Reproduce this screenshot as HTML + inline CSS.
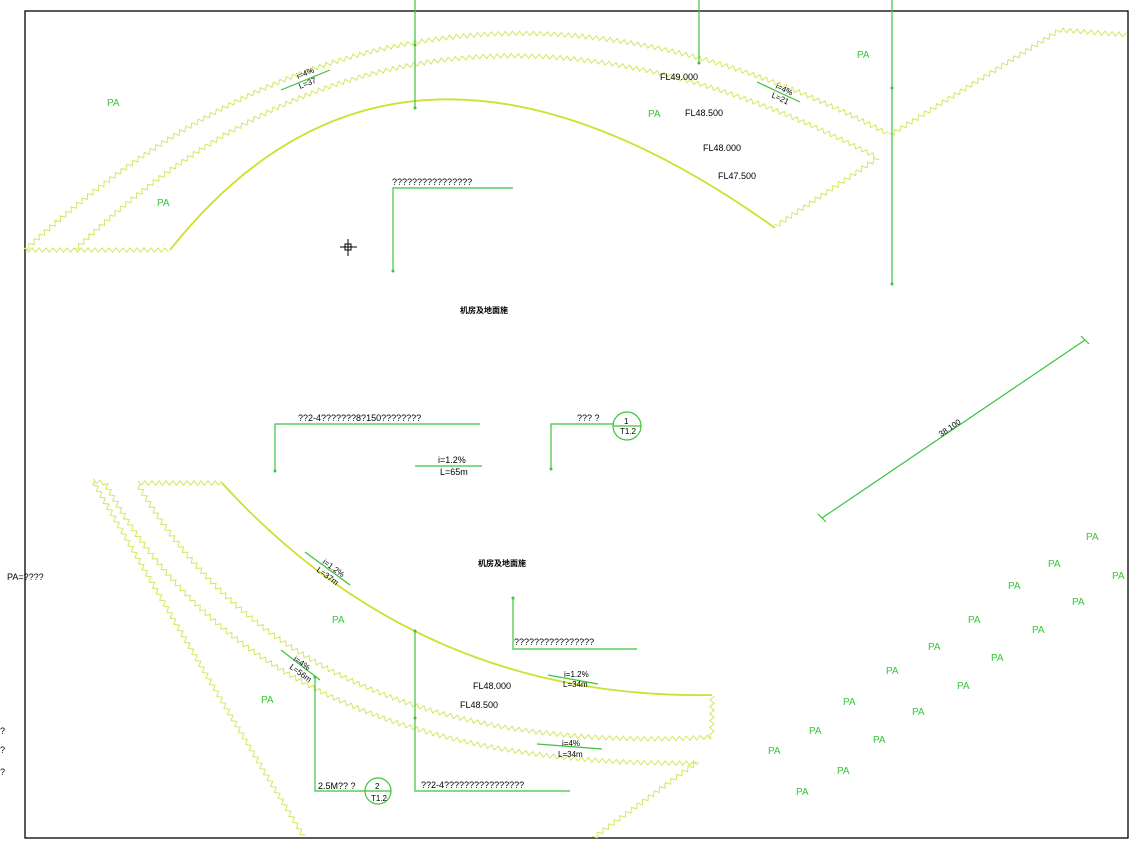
<!DOCTYPE html>
<html><head><meta charset="utf-8"><style>
html,body{margin:0;padding:0;background:#fff;}
svg{display:block;}
text{font-family:"Liberation Sans","Noto Sans CJK SC",sans-serif;}
.t{font-size:9px;fill:#000;}
.pa{font-size:10px;fill:#3cc43c;}
.g{stroke:#3cc43c;stroke-width:1.2;fill:none;}
</style></head><body>
<svg id="s" width="1131" height="846" viewBox="0 0 1131 846" xmlns="http://www.w3.org/2000/svg">
<rect x="25" y="11" width="1103" height="827" fill="none" stroke="#000" stroke-width="1.3"/>
<g id="zz"></g>
<path d="M170,250 Q400,-40 775,228" fill="none" stroke="#d0e030" stroke-width="1.8"/>
<path d="M222,483 Q420,700 712,695" fill="none" stroke="#d0e030" stroke-width="1.8"/>
<g class="g">
<line x1="415" y1="0" x2="415" y2="108"/>
<line x1="699" y1="0" x2="699" y2="63"/>
<line x1="892" y1="0" x2="892" y2="285"/>
<line x1="281" y1="90" x2="330" y2="70"/>
<line x1="757" y1="82" x2="800" y2="102"/>
<polyline points="513,188 393,188 393,272"/>
<polyline points="480,424 275,424 275,472"/>
<polyline points="614,424 551,424 551,470"/>
<circle cx="627" cy="426" r="14"/>
<line x1="613" y1="426" x2="641" y2="426"/>
<line x1="415" y1="466" x2="482" y2="466"/>
<line x1="822" y1="518" x2="1085" y2="340"/>
<line x1="818" y1="514" x2="826" y2="522"/>
<line x1="1081" y1="336" x2="1089" y2="344"/>
<line x1="305" y1="552" x2="350" y2="585"/>
<polyline points="513,597 513,649 637,649"/>
<polyline points="415,630 415,791 570,791"/>
<line x1="548" y1="675" x2="598" y2="684"/>
<line x1="281" y1="650" x2="320" y2="680"/>
<polyline points="315,676 315,791 365,791"/>
<circle cx="378" cy="791" r="13"/>
<line x1="365" y1="791" x2="391" y2="791"/>
<line x1="537" y1="744" x2="602" y2="749"/>
</g>
<g fill="#3cc43c">
<circle cx="415" cy="45" r="1.5"/><circle cx="415" cy="108" r="1.5"/><circle cx="699" cy="63" r="1.5"/>
<circle cx="892" cy="88" r="1.5"/><circle cx="892" cy="284" r="1.5"/><circle cx="393" cy="271" r="1.5"/>
<circle cx="275" cy="471" r="1.5"/><circle cx="551" cy="469" r="1.5"/><circle cx="513" cy="598" r="1.5"/>
<circle cx="415" cy="631" r="1.5"/><circle cx="415" cy="718" r="1.5"/><circle cx="315" cy="677" r="1.5"/>
</g>
<g stroke="#000" stroke-width="1" fill="none"><line x1="340" y1="247" x2="357" y2="247"/><line x1="348" y1="239" x2="348" y2="256"/><rect x="345" y="244" width="6" height="6"/></g>
<g class="t">
<text x="660" y="80">FL49.000</text>
<text x="685" y="116">FL48.500</text>
<text x="703" y="151">FL48.000</text>
<text x="718" y="179">FL47.500</text>
<text x="392" y="185">????????????????</text>
<text x="298" y="421">??2-4???????8?150????????</text>
<text x="577" y="421">??? ?</text>
<text x="624" y="424" font-size="8">1</text>
<text x="620" y="434" font-size="8">T1.2</text>
<text x="438" y="463">i=1.2%</text>
<text x="440" y="475">L=65m</text>
<text x="514" y="645">????????????????</text>
<text x="473" y="689">FL48.000</text>
<text x="460" y="708">FL48.500</text>
<text x="421" y="788">??2-4????????????????</text>
<text x="318" y="789">2.5M?? ?</text>
<text x="375" y="789" font-size="8">2</text>
<text x="371" y="801" font-size="8">T1.2</text>
<text x="564" y="677" font-size="8">i=1.2%</text>
<text x="563" y="687" font-size="8">L=34m</text>
<text x="562" y="746" font-size="8">i=4%</text>
<text x="558" y="757" font-size="8">L=34m</text>
<text transform="translate(298,79) rotate(-22)" font-size="8">i=4%</text>
<text transform="translate(300,89) rotate(-22)" font-size="8">L=37</text>
<text transform="translate(775,88) rotate(25)" font-size="8">i=4%</text>
<text transform="translate(771,97) rotate(25)" font-size="8">L=21</text>
<text transform="translate(322,563) rotate(36)" font-size="8">i=1.2%</text>
<text transform="translate(316,571) rotate(36)" font-size="8">L=37m</text>
<text transform="translate(293,660) rotate(36)" font-size="8">i=4%</text>
<text transform="translate(289,668) rotate(36)" font-size="8">L=56m</text>
<text transform="translate(941,437) rotate(-34)" font-size="8">38.100</text>
<text x="7" y="580">PA=????</text>
<text x="0" y="734">?</text><text x="0" y="753">?</text><text x="0" y="775">?</text>
<text x="460" y="313" font-size="8" font-weight="bold">机房及地面施</text>
<text x="478" y="566" font-size="8" font-weight="bold">机房及地面施</text>
</g>
<g class="pa">
<text x="107" y="106">PA</text><text x="157" y="206">PA</text><text x="648" y="117">PA</text><text x="857" y="58">PA</text>
<text x="332" y="623">PA</text><text x="261" y="703">PA</text>
<text x="1086" y="540">PA</text><text x="1048" y="567">PA</text><text x="1112" y="579">PA</text><text x="1008" y="589">PA</text>
<text x="1072" y="605">PA</text><text x="968" y="623">PA</text><text x="1032" y="633">PA</text><text x="928" y="650">PA</text>
<text x="991" y="661">PA</text><text x="886" y="674">PA</text><text x="957" y="689">PA</text><text x="843" y="705">PA</text>
<text x="912" y="715">PA</text><text x="809" y="734">PA</text><text x="873" y="743">PA</text><text x="768" y="754">PA</text>
<text x="837" y="774">PA</text><text x="796" y="795">PA</text>
</g>
<path id="p1" d="M25,250 Q420,-115 890,135" fill="none"/>
<path id="p2" d="M890,135 L1060,30 L1128,35" fill="none"/>
<path id="p3" d="M75,250 Q420,-85 878,158 L773,228" fill="none"/>
<path id="p4" d="M25,250 L170,250" fill="none"/>
<path id="p5" d="M138,483 L222,483" fill="none"/>
<path id="p6" d="M138,485 Q300,760 712,737 L712,695" fill="none"/>
<path id="p7" d="M93,481 L105,483 Q260,770 700,763" fill="none"/>
<path id="p8" d="M93,481 Q190,650 304,837" fill="none"/>
<path id="p9" d="M593,838 L700,760" fill="none"/>
</svg>
<script>
(function(){
var g=document.getElementById('zz');var ns="http://www.w3.org/2000/svg";
for(var k=1;k<=9;k++){var p=document.getElementById('p'+k);var L=p.getTotalLength();var step=3.5,a=2.2;var d="";var i=0;
for(var s=0;s<=L;s+=step){var pt=p.getPointAtLength(s);var q=p.getPointAtLength(Math.min(L,s+0.5));var r=p.getPointAtLength(Math.max(0,s-0.5));
var dx=q.x-r.x,dy=q.y-r.y,n=Math.hypot(dx,dy)||1;var nx=-dy/n,ny=dx/n;var o=(i%2?a:-a);
d+=(i?"L":"M")+(pt.x+nx*o).toFixed(1)+","+(pt.y+ny*o).toFixed(1);i++;}
var e=document.createElementNS(ns,'path');e.setAttribute('d',d);e.setAttribute('fill','none');e.setAttribute('stroke','#d6e660');e.setAttribute('stroke-width','1');g.appendChild(e);}
})();
</script>
</body></html>
